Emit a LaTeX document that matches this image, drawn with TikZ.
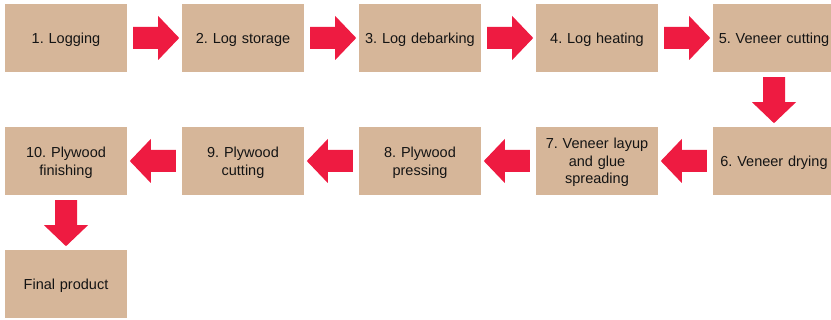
\documentclass[tikz,border=0pt]{standalone}
\usepackage{fontspec}
\setmainfont{Liberation Sans}
\usetikzlibrary{calc}
\definecolor{boxtan}{RGB}{214,182,153}
\definecolor{arrowred}{RGB}{238,27,65}
\definecolor{txt}{RGB}{20,20,20}
\frenchspacing
\tikzset{
  stepbox/.style={fill=boxtan, draw=none, minimum width=122pt, minimum height=68pt,
    inner sep=0pt, align=center, text width=118pt, text=txt,
    font=\fontsize{14.5pt}{17.8pt}\selectfont\frenchspacing,
    execute at begin node={\rule{0pt}{14pt}},
    execute at end node={\rule[-3.6pt]{0pt}{3.6pt}}},
  barrow/.pic={\fill[arrowred] (0,-11) -- (25,-11) -- (25,-22) -- (46,0) -- (25,22) -- (25,11) -- (0,11) -- cycle;}
}
\begin{document}
\begin{tikzpicture}[x=1pt,y=-1pt]
\useasboundingbox (0,0) rectangle (831,320);
\clip (0,0) rectangle (831,320);
\node[stepbox] (b1) at (66,38) {1. Logging};
\node[stepbox] (b2) at (243,38) {2. Log storage};
\node[stepbox] (b3) at (420,38) {3. Log debarking};
\node[stepbox] (b4) at (597,38) {4. Log heating};
\node[stepbox] (b5) at (774,38) {5. Veneer cutting};
\node[stepbox] (b6) at (774,161) {6. Veneer drying};
\node[stepbox] (b7) at (597,161) {7. Veneer layup\\and glue\\spreading};
\node[stepbox] (b8) at (420,161) {8. Plywood\\pressing};
\node[stepbox] (b9) at (243,161) {9. Plywood\\cutting};
\node[stepbox] (b10) at (66,161) {10. Plywood\\finishing};
\node[stepbox] (b11) at (66,284) {Final product};
\pic at ($(b1.east)+(6,0)$) {barrow};
\pic at ($(b2.east)+(6,0)$) {barrow};
\pic at ($(b3.east)+(6,0)$) {barrow};
\pic at ($(b4.east)+(6,0)$) {barrow};
\pic[rotate=-90] at ($(b5.south)+(0,5)$) {barrow};
\pic[rotate=180] at ($(b6.west)+(-6,0)$) {barrow};
\pic[rotate=180] at ($(b7.west)+(-6,0)$) {barrow};
\pic[rotate=180] at ($(b8.west)+(-6,0)$) {barrow};
\pic[rotate=180] at ($(b9.west)+(-6,0)$) {barrow};
\pic[rotate=-90] at ($(b10.south)+(0,5)$) {barrow};
\end{tikzpicture}
\end{document}
